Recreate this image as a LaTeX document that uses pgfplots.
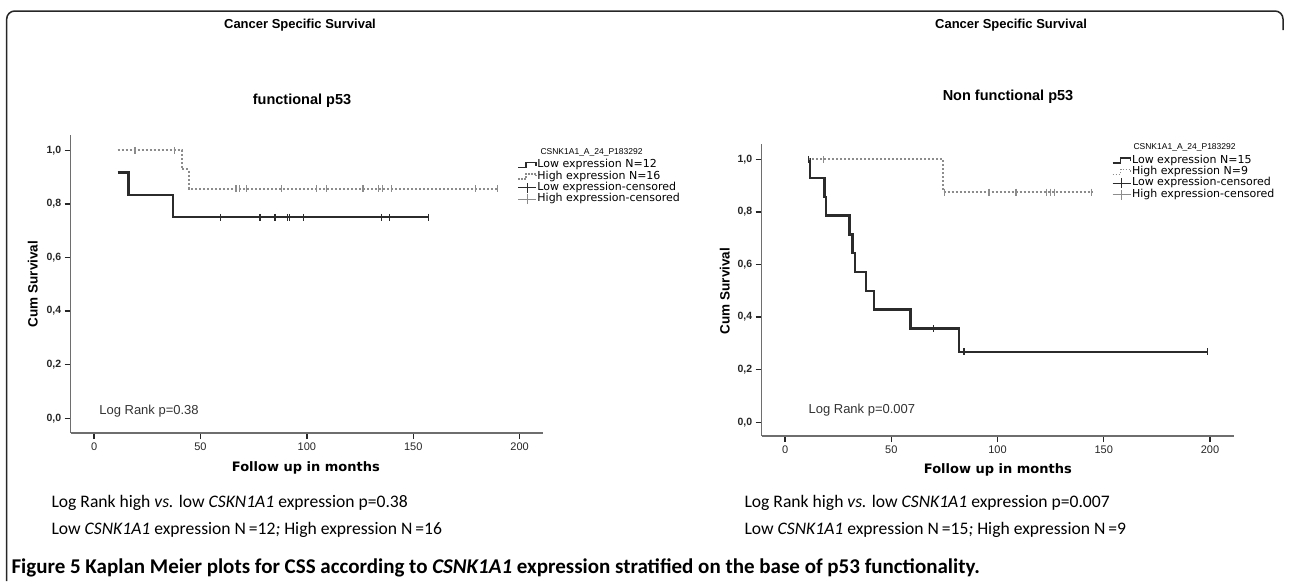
\documentclass[border=0pt]{standalone}
\usepackage{fontspec}
\setmainfont{Liberation Sans}
\newfontfamily\dejavu{DejaVu Sans}
\newfontfamily\carlito{Carlito}
\usepackage{pgfplots}
\pgfplotsset{compat=1.18}

\definecolor{kmlow}{HTML}{2B2B2B}
\definecolor{kmhigh}{HTML}{8C8C8C}
\definecolor{axgray}{HTML}{6E6E6E}

\pgfplotsset{
  km/.style={
    scale only axis, anchor=south west,
    axis lines*=left,
    axis line style={axgray, line width=1.2pt},
    tick align=outside, major tick length=6pt,
    tick style={black!85, line width=1.3pt},
    xtick={0,50,100,150,200},
    ytick={0,0.2,0.4,0.6,0.8,1.0},
    /pgf/number format/assume math mode=true,
    xticklabel style={font=\fontsize{11}{12}\selectfont, text=black!85},
    yticklabel style={font=\bfseries\fontsize{10.5}{12}\selectfont, text=black!85,
      /pgf/number format/.cd, use comma, fixed, fixed zerofill, precision=1},
    xlabel={Follow up in months},
    ylabel={Cum Survival},
    xlabel style={font=\dejavu\bfseries\fontsize{13}{15}\selectfont, anchor=center},
    ylabel style={font=\bfseries\fontsize{13.5}{15}\selectfont, anchor=center},
    legend cell align=left,
    legend style={draw=none, fill=none, inner sep=0pt, row sep=0pt,
      font=\dejavu\fontsize{11}{12}\selectfont,
      nodes={inner sep=0.6pt, text height=7.8pt, text depth=2.4pt}},
    clip=false,
  },
  lowline/.style={kmlow, line width=2.3pt, const plot, no marks,
    legend image code/.code={\draw[kmlow, line width=1.6pt] (0pt,-2.5pt) -- (8pt,-2.5pt) -- (8pt,2.5pt) -- (18pt,2.5pt) -- (18pt,-0.5pt);}},
  highline/.style={kmhigh, line width=2pt, dash pattern=on 2pt off 2pt, const plot, no marks,
    legend image code/.code={\draw[kmhigh, line width=1.3pt, dash pattern=on 1.5pt off 1.5pt] (0pt,-2.5pt) -- (8pt,-2.5pt) -- (8pt,2.5pt) -- (18pt,2.5pt) -- (18pt,-0.5pt);}},
  lowcens/.style={only marks, mark=|, mark size=3.5pt, mark options={kmlow, line width=1.2pt},
    legend image code/.code={\draw[kmlow, line width=1pt] (0pt,0pt) -- (18pt,0pt); \draw[kmlow, line width=1pt] (9pt,-5pt) -- (9pt,5pt);}},
  highcens/.style={only marks, mark=|, mark size=3.5pt, mark options={kmhigh, line width=1.1pt},
    legend image code/.code={\draw[kmhigh, line width=0.9pt] (0pt,0pt) -- (18pt,0pt); \draw[kmhigh, line width=0.9pt] (9pt,-5pt) -- (9pt,5pt);}},
}

\begin{document}
\begin{tikzpicture}
\path[use as bounding box] (0pt,0pt) rectangle (1290pt,-581pt);

% frame
\draw[line width=1.5pt, black!85] (6.7pt,-581pt) -- (6.7pt,-19pt)
  arc[start angle=180, end angle=90, radius=8pt] -- (1275pt,-11pt)
  arc[start angle=90, end angle=0, radius=8pt] -- (1283pt,-30pt);

% titles
\node[font=\bfseries\fontsize{13}{15}\selectfont] at (300pt,-25pt) {Cancer Specific Survival};
\node[font=\bfseries\fontsize{14.5}{16}\selectfont] at (302pt,-101pt) {functional p53};
\node[font=\bfseries\fontsize{13}{15}\selectfont] at (1011pt,-25pt) {Cancer Specific Survival};
\node[font=\bfseries\fontsize{14.5}{16}\selectfont] at (1008pt,-97pt) {Non functional p53};

% legend titles
\node[anchor=west, font=\fontsize{8.5}{10}\selectfont] at (537pt,-152pt) {CSNK1A1\_A\_24\_P183292};
\node[anchor=west, font=\fontsize{8.5}{10}\selectfont] at (1130pt,-147pt) {CSNK1A1\_A\_24\_P183292};

% functional p53
\begin{axis}[km, at={(70.7pt,-433pt)}, width=472.3pt, height=298pt,
  xmin=-11, xmax=211, ymin=-0.055, ymax=1.057,
  xlabel style={at={(axis description cs:0.498,-0.117)}},
  ylabel style={at={(axis description cs:-0.08,0.5)}},
  legend style={at={(0.945,0.919)}, anchor=north west}]
\addplot[lowline] coordinates {(11,0.917) (16.1,0.833) (37.2,0.75) (157.4,0.75)};
\addlegendentry{Low expression N=12}
\addplot[highline] coordinates {(11,1) (41.1,0.929) (44.6,0.857) (189.8,0.857)};
\addlegendentry{High expression N=16}
\addplot[lowcens] coordinates {(59.5,0.75) (78,0.75) (85,0.75) (91,0.75) (92,0.75) (98.6,0.75) (135,0.75) (139,0.75) (157,0.75)};
\addlegendentry{Low expression-censored}
\addplot[highcens] coordinates {(19.2,1) (37.6,1) (66.7,0.857) (68.5,0.857) (71.7,0.857) (88,0.857) (104.5,0.857) (109.2,0.857) (126.4,0.857) (133.5,0.857) (135.5,0.857) (139.8,0.857) (179.3,0.857) (189.8,0.857)};
\addlegendentry{High expression-censored}
\node[anchor=west, font=\fontsize{13}{15}\selectfont, text=black!80] at (axis cs:0.8,0.028) {Log Rank p=0.38};
\end{axis}

% non functional p53
\begin{axis}[km, at={(761.7pt,-436pt)}, width=472.3pt, height=292pt,
  xmin=-11, xmax=211.3, ymin=-0.052, ymax=1.058,
  xlabel style={at={(axis description cs:0.5,-0.116)}},
  ylabel style={at={(axis description cs:-0.078,0.497)}},
  legend style={at={(0.741,0.964)}, anchor=north west}]
\addplot[lowline] coordinates {(11,1) (11.8,0.929) (18.5,0.857) (19.2,0.786) (30.3,0.714) (31.8,0.643) (32.9,0.571) (38,0.5) (42,0.429) (59.1,0.357) (82,0.268) (198.9,0.268)};
\addlegendentry{Low expression N=15}
\addplot[highline] coordinates {(11,1) (74.5,0.875) (144.3,0.875)};
\addlegendentry{High expression N=9}
\addplot[lowcens] coordinates {(11,1) (69.8,0.357) (84.2,0.268) (198.9,0.268)};
\addlegendentry{Low expression-censored}
\addplot[highcens] coordinates {(18,1) (75,0.875) (96,0.875) (108.7,0.875) (123,0.875) (125,0.875) (127,0.875) (144.3,0.875)};
\addlegendentry{High expression-censored}
\node[anchor=west, font=\fontsize{13}{15}\selectfont, text=black!80] at (axis cs:9.4,0.047) {Log Rank p=0.007};
\end{axis}

% captions
\node[anchor=west, font=\carlito\fontsize{17.6}{22}\selectfont] at (48pt,-503pt) {Log Rank high \textit{vs.} low \textit{CSKN1A1} expression p=0.38};
\node[anchor=west, font=\carlito\fontsize{17.6}{22}\selectfont] at (48pt,-530pt) {Low \textit{CSNK1A1} expression N\,=12\textit{;} High expression N\,=16};
\node[anchor=west, font=\carlito\fontsize{17.6}{22}\selectfont] at (741pt,-503pt) {Log Rank high \textit{vs.} low \textit{CSNK1A1} expression p=0.007};
\node[anchor=west, font=\carlito\fontsize{17.6}{22}\selectfont] at (741pt,-530pt) {Low \textit{CSNK1A1} expression N\,=15\textit{;} High expression N\,=9};
\node[anchor=west, font=\carlito\bfseries\fontsize{21}{24}\selectfont] at (8pt,-568pt) {Figure 5 Kaplan Meier plots for CSS according to \textit{CSNK1A1} expression stratified on the base of p53 functionality.};
\end{tikzpicture}
\end{document}
